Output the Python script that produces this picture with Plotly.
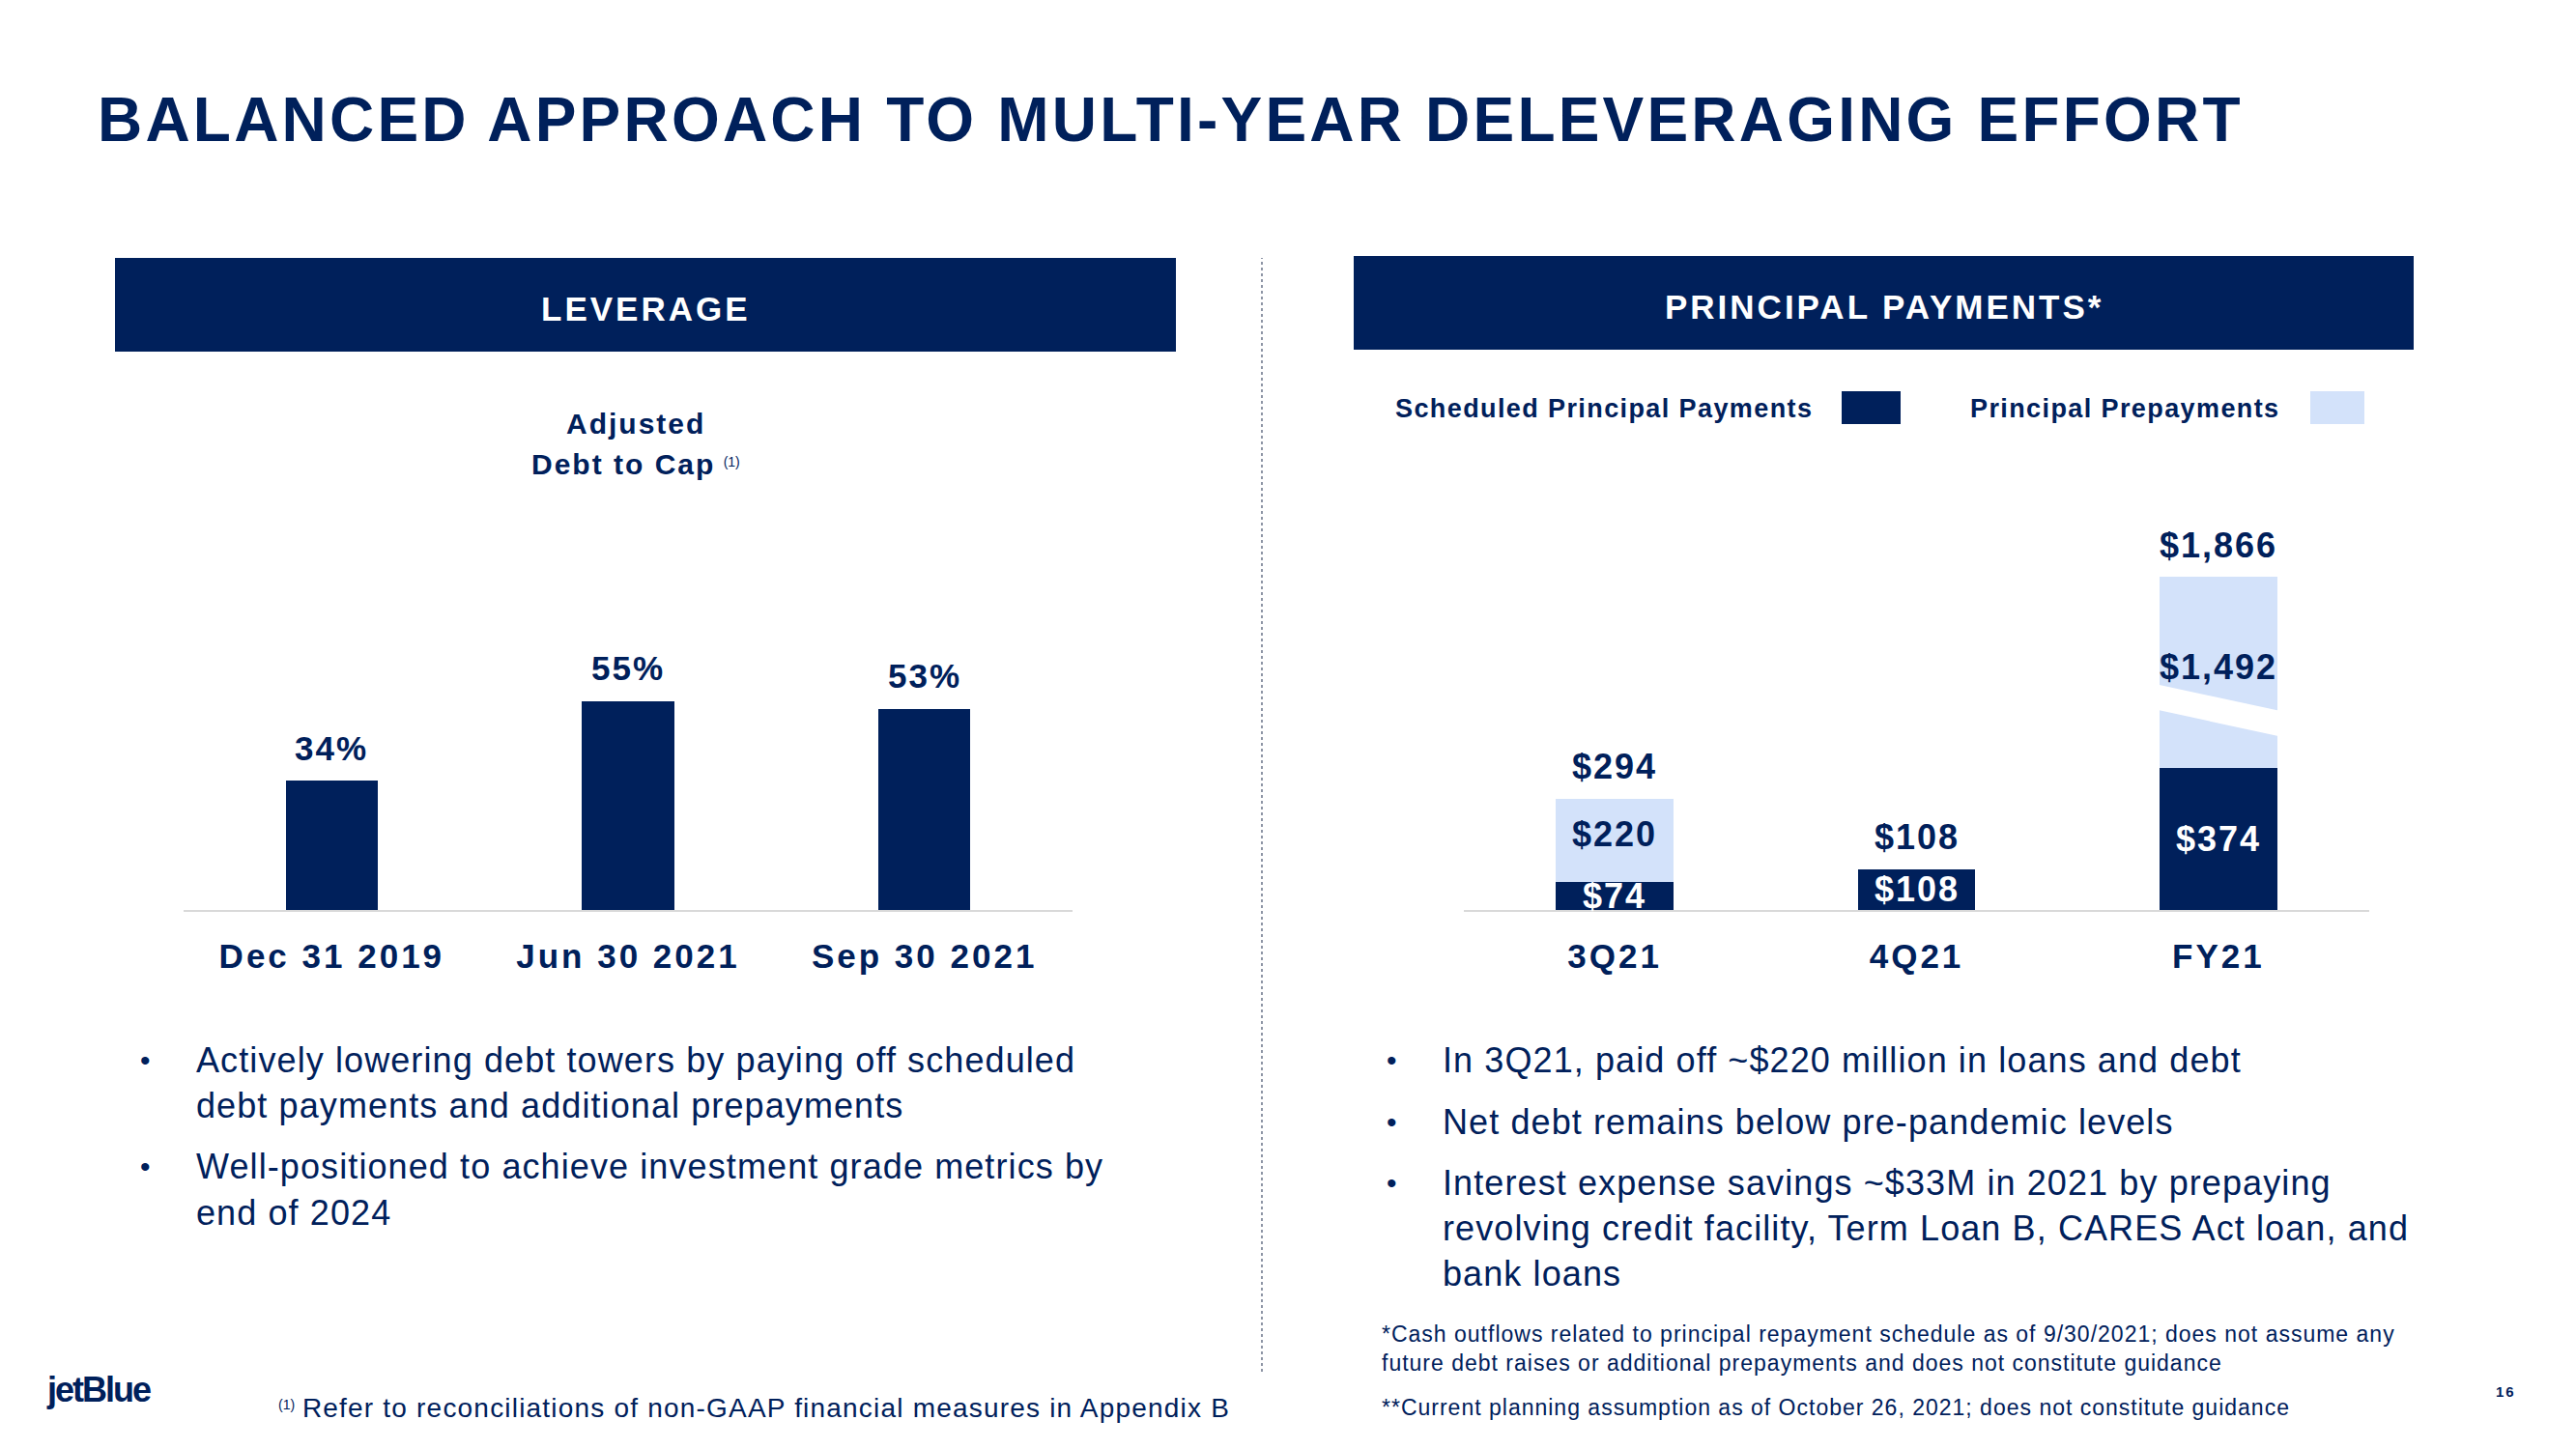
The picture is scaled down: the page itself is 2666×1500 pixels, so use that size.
import plotly.graph_objects as go

W, H = 2666, 1500
NAVY = "#00205B"
LIGHT = "#D3E2FA"
AXIS = "#D9D9D9"
FONT = "Liberation Sans, Arial, sans-serif"

# ---------------- data ----------------
lev_categories = ["Dec 31 2019", "Jun 30 2021", "Sep 30 2021"]
lev_values = [34, 55, 53]

pp_categories = ["3Q21", "4Q21", "FY21"]
pp_scheduled = [74, 108, 374]
pp_prepay = [220, 0, 1492]
pp_total = [294, 108, 1866]

# broken-axis display cap for the tall FY21 bar
DISPLAY_CAP = 880


def px(x):
    return x / W


def py(y):
    return 1 - y / H


def sp(text, ls=2):
    return f'<span style="letter-spacing:{ls}px">{text}</span>'


pp_prepay_disp = [max(min(t, DISPLAY_CAP) - s, 0) for t, s in zip(pp_total, pp_scheduled)]

fig = go.Figure()

# Left chart: leverage
fig.add_trace(go.Bar(
    x=lev_categories, y=lev_values, width=0.31, marker_color=NAVY,
    marker_line_width=0, xaxis="x", yaxis="y", showlegend=False, hoverinfo="skip"))

# Right chart: principal payments
fig.add_trace(go.Bar(
    x=pp_categories, y=pp_scheduled, width=0.39, marker_color=NAVY,
    marker_line_width=0, xaxis="x2", yaxis="y2", name="Scheduled Principal Payments",
    showlegend=False, hoverinfo="skip"))
fig.add_trace(go.Bar(
    x=pp_categories, y=pp_prepay_disp, width=0.39, marker_color=LIGHT,
    marker_line_width=0, xaxis="x2", yaxis="y2", name="Principal Prepayments",
    showlegend=False, hoverinfo="skip"))

ann = []
shapes = []

# title
ann.append(dict(text=sp("<b>BALANCED APPROACH TO MULTI-YEAR DELEVERAGING EFFORT</b>", 3.2),
                x=px(99), y=py(124), xref="paper", yref="paper", xanchor="left", yanchor="middle",
                showarrow=False, font=dict(size=64, color=NAVY, family=FONT)))

# header boxes
for (x0, x1, y0, y1, label) in [(119, 1217, 267, 364, "LEVERAGE"), (1401, 2498, 265, 362, "PRINCIPAL PAYMENTS*")]:
    shapes.append(dict(type="rect", xref="paper", yref="paper", x0=px(x0), x1=px(x1), y0=py(y1), y1=py(y0),
                       fillcolor=NAVY, line_width=0, layer="below"))
    ann.append(dict(text=sp(f"<b>{label}</b>", 3), x=px((x0 + x1) / 2), y=py((y0 + y1) / 2 + 4),
                    xref="paper", yref="paper", xanchor="center", yanchor="middle", showarrow=False,
                    font=dict(size=35, color="white", family=FONT)))

# vertical dotted divider
shapes.append(dict(type="line", xref="paper", yref="paper", x0=px(1306), x1=px(1306), y0=py(1420), y1=py(267),
                   line=dict(color="#44506b", width=1.2, dash="dot")))

# left subtitle
ann.append(dict(text=sp("<b>Adjusted</b>", 2), x=px(658), y=py(439), xref="paper", yref="paper",
                xanchor="center", yanchor="middle",
                showarrow=False, font=dict(size=30, color=NAVY, family=FONT)))
ann.append(dict(text=sp("<b>Debt to Cap</b>", 2) + ' <span style="font-size:20px"><sup>(1)</sup></span>',
                x=px(658), y=py(480), xref="paper", yref="paper", xanchor="center", yanchor="middle",
                showarrow=False, font=dict(size=30, color=NAVY, family=FONT)))

# leverage value labels
for c, v in zip(lev_categories, lev_values):
    ann.append(dict(text=sp(f"<b>{v}%</b>", 2), x=c, y=v, xref="x", yref="y", yanchor="middle",
                    yshift=34, showarrow=False, font=dict(size=35, color=NAVY, family=FONT)))

# principal payment labels
for i, c in enumerate(pp_categories):
    s, p, t, pd_ = pp_scheduled[i], pp_prepay[i], pp_total[i], pp_prepay_disp[i]
    ann.append(dict(text=sp(f"<b>${t:,}</b>", 2), x=c, y=s + pd_, xref="x2", yref="y2", yanchor="middle",
                    yshift=33, showarrow=False, font=dict(size=36, color=NAVY, family=FONT)))
    ann.append(dict(text=sp(f"<b>${s:,}</b>", 2), x=c, y=s / 2, xref="x2", yref="y2", yanchor="middle",
                    showarrow=False, font=dict(size=36, color="white", family=FONT)))
    if p > 0:
        ann.append(dict(text=sp(f"<b>${p:,}</b>", 2), x=c, y=s + pd_ / 2, xref="x2", yref="y2",
                        yanchor="middle", yshift=6, showarrow=False,
                        font=dict(size=36, color=NAVY, family=FONT)))

# axis break marker on FY21 bar
bx = 2
shapes.append(dict(type="path", xref="x2", yref="y2",
                   path=f"M {bx-0.21},597 L {bx+0.21},525 L {bx+0.21},457 L {bx-0.21},530 Z",
                   fillcolor="white", line_width=0))

# legend (text + swatch)
ann.append(dict(text=sp("<b>Scheduled Principal Payments</b>", 1.4), x=px(1442), y=py(423), xref="paper",
                yref="paper", xanchor="left", yanchor="middle", showarrow=False,
                font=dict(size=27, color=NAVY, family=FONT)))
shapes.append(dict(type="rect", xref="paper", yref="paper", x0=px(1906), x1=px(1967), y0=py(439), y1=py(405),
                   fillcolor=NAVY, line_width=0))
ann.append(dict(text=sp("<b>Principal Prepayments</b>", 1.4), x=px(2037), y=py(423), xref="paper",
                yref="paper", xanchor="left", yanchor="middle", showarrow=False,
                font=dict(size=27, color=NAVY, family=FONT)))
shapes.append(dict(type="rect", xref="paper", yref="paper", x0=px(2391), x1=px(2447), y0=py(439), y1=py(405),
                   fillcolor=LIGHT, line_width=0))

# bullets
left_bullets = [
    ["Actively lowering debt towers by paying off scheduled", "debt payments and additional prepayments"],
    ["Well-positioned to achieve investment grade metrics by", "end of 2024"],
]
right_bullets = [
    ["In 3Q21, paid off ~$220 million in loans and debt"],
    ["Net debt remains below pre-pandemic levels"],
    ["Interest expense savings ~$33M in 2021 by prepaying",
     "revolving credit facility, Term Loan B, CARES Act loan, and", "bank loans"],
]


def add_bullets(bullets, xb, xt, ys):
    k = 0
    for b in bullets:
        for j, line in enumerate(b):
            y = ys[k]
            if j == 0:
                ann.append(dict(text="•", x=px(xb), y=py(y), xref="paper", yref="paper", xanchor="center",
                                yanchor="middle", showarrow=False, font=dict(size=30, color=NAVY, family=FONT)))
            ann.append(dict(text=sp(line, 1.1), x=px(xt), y=py(y), xref="paper", yref="paper", xanchor="left",
                            yanchor="middle", showarrow=False, font=dict(size=36, color=NAVY, family=FONT)))
            k += 1


add_bullets(left_bullets, 150, 201, [1097, 1144, 1207, 1255])
add_bullets(right_bullets, 1440, 1491, [1097, 1161, 1224, 1271, 1318])

# footnotes
ann.append(dict(text='<span style="font-size:20px"><sup>(1)</sup></span> ' +
                sp("Refer to reconciliations of non-GAAP financial measures in Appendix B", 1.2),
                x=px(286), y=py(1457), xref="paper", yref="paper", xanchor="left", yanchor="middle",
                showarrow=False, font=dict(size=28, color=NAVY, family=FONT)))
for txt, y in [("*Cash outflows related to principal repayment schedule as of 9/30/2021; does not assume any", 1381),
               ("future debt raises or additional prepayments and does not constitute guidance", 1411),
               ("**Current planning assumption as of October 26, 2021; does not constitute guidance", 1457)]:
    ann.append(dict(text=sp(txt, 1), x=px(1428), y=py(y), xref="paper", yref="paper", xanchor="left",
                    yanchor="middle", showarrow=False, font=dict(size=23, color=NAVY, family=FONT)))

# logo & page number
ann.append(dict(text=sp("<b>jetBlue</b>", -2), x=px(46), y=py(1438), xref="paper", yref="paper",
                xanchor="left", yanchor="middle", showarrow=False,
                font=dict(size=36, color=NAVY, family=FONT)))
ann.append(dict(text=sp("<b>16</b>", 2), x=px(2593), y=py(1440), xref="paper", yref="paper",
                xanchor="center", yanchor="middle", showarrow=False,
                font=dict(size=15, color=NAVY, family=FONT)))

ydom = [py(942), py(500)]
axis_common = dict(showline=True, linecolor=AXIS, linewidth=2, ticks="outside", ticklen=16,
                   tickcolor="rgba(0,0,0,0)", showgrid=False, zeroline=False, range=[-0.5, 2.5],
                   tickfont=dict(size=35, color=NAVY, family=FONT), fixedrange=True)

fig.update_layout(
    width=W, height=H, margin=dict(l=0, r=0, t=0, b=0),
    paper_bgcolor="white", plot_bgcolor="white",
    barmode="stack", bargap=0,
    font=dict(family=FONT, color=NAVY),
    xaxis=dict(domain=[px(190), px(1110)], anchor="y", type="category",
               tickvals=lev_categories, ticktext=[sp(f"<b>{c}</b>", 3) for c in lev_categories], **axis_common),
    yaxis=dict(domain=ydom, range=[0, 442 / 3.93], visible=False, fixedrange=True),
    xaxis2=dict(domain=[px(1515), px(2452)], anchor="y2", type="category",
                tickvals=pp_categories, ticktext=[sp(f"<b>{c}</b>", 3) for c in pp_categories], **axis_common),
    yaxis2=dict(domain=ydom, range=[0, 442 / 0.392], visible=False, fixedrange=True),
    annotations=ann, shapes=shapes,
)

fig.write_html("out.html")
